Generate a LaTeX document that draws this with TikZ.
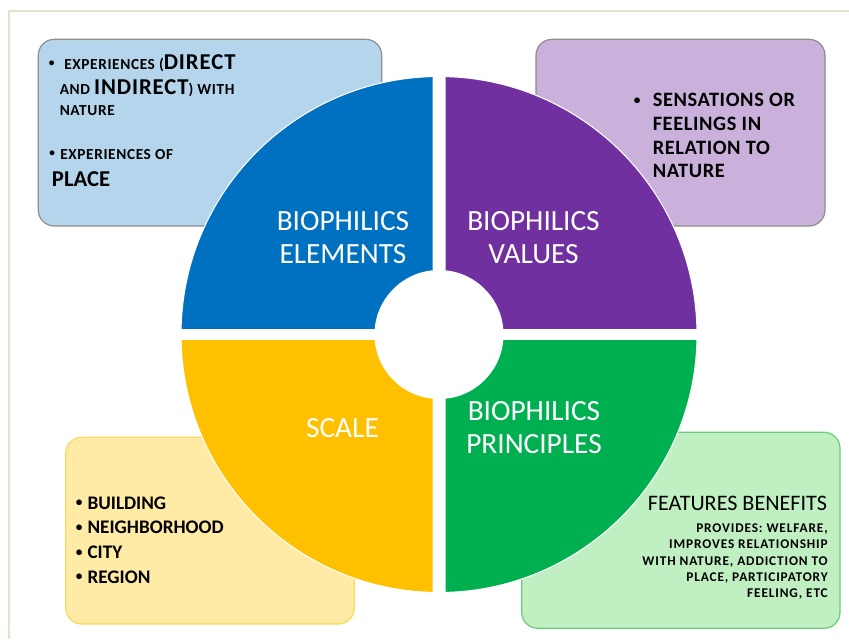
\documentclass[tikz,border=0pt]{standalone}
\usepackage{fontspec}
\setmainfont{Carlito}
\usepackage{xcolor}
\usepackage{tikz}
\usetikzlibrary{positioning}

\definecolor{elemblue}{HTML}{0070C0}
\definecolor{valpurple}{HTML}{7030A0}
\definecolor{scaleyellow}{HTML}{FFC000}
\definecolor{princgreen}{HTML}{00B050}
\definecolor{elemfill}{HTML}{B4D5EC}
\definecolor{valfill}{HTML}{C9B1DB}
\definecolor{scalefill}{HTML}{FFEBA6}
\definecolor{scaleline}{HTML}{FFD75E}
\definecolor{princfill}{HTML}{C0EFC1}
\definecolor{princline}{HTML}{6CCB7C}
\definecolor{boxline}{HTML}{8E8E8E}
\definecolor{frameline}{HTML}{E6E2CE}

\newcommand{\smalltxt}{\fontsize{11.5}{13}\selectfont\addfontfeature{LetterSpace=4}}
\newcommand{\bigtxt}{\fontsize{17}{20}\selectfont}
\newcommand{\listdot}[1]{\raisebox{1.6pt}{\fontsize{#1}{#1}\selectfont •}}

\begin{document}
\begin{tikzpicture} [x = 0.75pt, y = -0.75pt,
          infobox/.style = {rounded corners = 12pt, line width = 0.9pt},
          quarter/.style = {draw = white, line width = 0.8pt, even odd rule},
          ringlabel/.style = {text = white, anchor = base, inner sep = 0pt,
              font = \fontsize{22}{26}\selectfont
          },
          itemtext/.style = {anchor = base west, inner sep = 0pt,
              font = \bfseries\fontsize{14.4}{17}\selectfont
          },
          valtext/.style = {anchor = base west, inner sep = 0pt,
              font = \bfseries\fontsize{15.3}{18}\selectfont\addfontfeature{LetterSpace=3}
          },
          elemtext/.style = {anchor = base west, inner sep = 0pt,
              font = \bfseries
          },
          notetext/.style = {anchor = base east, inner sep = 0pt,
              font = \bfseries\fontsize{10}{12}\selectfont\addfontfeature{LetterSpace=6.5}
          }
          ]

          \useasboundingbox (0,0) rectangle (849,639);

          % Frame
          \draw [frameline, line width = 1.5pt] (9,639) -- (9,10.5) -- (849,10.5);

          % Boxes
          \draw [infobox, fill = elemfill, draw = boxline] (38.3,39.3) rectangle (381.7,226);
          \draw [infobox, fill = valfill, draw = boxline] (536,39.3) rectangle (825,226);
          \draw [infobox, fill = scalefill, draw = scaleline] (65.7,437.3) rectangle (354.3,624);
          \draw [infobox, fill = princfill, draw = princline] (521.7,432.3) rectangle (840,628.3);

          % Quarters of the ring
          \foreach \xa/\ya/\xb/\yb/\col in {170/70/432.5/328.5/elemblue,
              445.5/70/710/328.5/valpurple,
              170/340.5/432.5/600/scaleyellow,
              445.5/340.5/710/600/princgreen} {
            \begin{scope}
              \clip (\xa,\ya) rectangle (\xb,\yb);
              \filldraw [quarter, fill = \col] (439,334.5) circle [radius = 258]
                (439,334.5) circle [radius = 64];
            \end{scope}
          }

          % Ring labels
          \node (elem1) [ringlabel] at (343,230.5) {BIOPHILICS};
          \node (elem2) [ringlabel] at (343,263.2) {ELEMENTS};
          \node (val1) [ringlabel] at (533.5,230.5) {BIOPHILICS};
          \node (val2) [ringlabel] at (533.5,263.2) {VALUES};
          \node (scale) [ringlabel] at (342.5,437.8) {SCALE};
          \node (princ1) [ringlabel] at (534,420.5) {BIOPHILICS};
          \node (princ2) [ringlabel] at (534,453.2) {PRINCIPLES};

          % Elements box
          \node (elemdot1) [elemtext] at (48.5,69) {\listdot{8.5}};
          \node (elemexp1) [elemtext] at (64,69) {\smalltxt EXPERIENCES (\bigtxt DIRECT};
          \node (elemexp2) [elemtext] at (59.5,94.5) {\smalltxt AND \bigtxt INDIRECT\smalltxt) WITH};
          \node (elemexp3) [elemtext] at (59.5,115) {\smalltxt NATURE};
          \node (elemdot2) [elemtext] at (49,159) {\listdot{8.5}};
          \node (elemplace1) [elemtext] at (60,159) {\smalltxt EXPERIENCES OF};
          \node (elemplace2) [elemtext] at (51.7,186.7) {\bigtxt PLACE};

          % Values box
          \node (valdot) [itemtext] at (633.5,106.7) {\listdot{10}};
          \foreach \txt [count = \i] in {SENSATIONS OR, FEELINGS IN, RELATION TO, NATURE}
            \node (valtxt\i) [valtext] at (652.5,{106.7+(\i-1)*23.7}) {\txt};

          % Scale box
          \foreach \txt [count = \i] in {BUILDING, NEIGHBORHOOD, CITY, REGION} {
            \node (scaledot\i) [itemtext] at (75.5,{509+(\i-1)*24.7}) {\listdot{10}};
            \node (scaletxt\i) [itemtext] at (87.3,{509+(\i-1)*24.7}) {\txt};
          }

          % Principles box
          \node (feat) [anchor = base east, inner sep = 0pt,
              font = \fontsize{16.6}{19}\selectfont] at (827.3,510) {FEATURES BENEFITS};
          \foreach \txt [count = \i] in {{PROVIDES: WELFARE,}, {IMPROVES RELATIONSHIP},
              {WITH NATURE, ADDICTION TO}, {PLACE, PARTICIPATORY}, {FEELING, ETC}}
            \node (feattxt\i) [notetext] at (828,{532.3+(\i-1)*16.35}) {\txt};

\end{tikzpicture}
\end{document}
